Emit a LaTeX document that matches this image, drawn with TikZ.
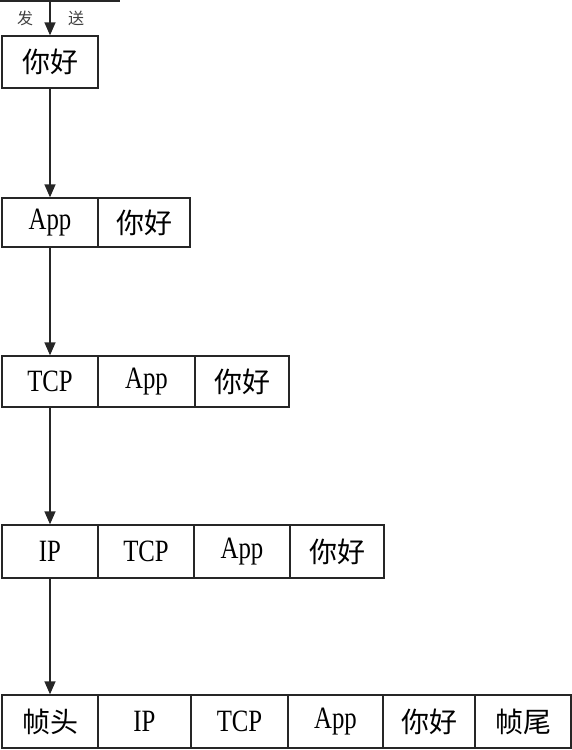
\documentclass[tikz,border=0pt]{standalone}
\usepackage{fontspec}
\setmainfont{Liberation Serif}
\newfontfamily\cjk{Noto Sans CJK SC}
\usetikzlibrary{arrows.meta}
\tikzset{
  cellstyle/.style={draw=black!85, line width=1.3pt, inner sep=0pt},
  flow/.style={draw=black!85, line width=1.3pt, -{Triangle[width=11pt,length=13pt]}},
  lbl/.style={font=\cjk\fontsize{16}{18}\selectfont, text=black!75}
}
\newcommand\lat[1]{\scalebox{0.8}[1]{\fontsize{31}{34}\selectfont #1}}
\newcommand\zh[1]{{\cjk\fontsize{28}{30}\selectfont #1}}
\newcommand\cellbox[6]{\node[cellstyle, minimum width={(#4-#2)*1pt}, minimum height={(#5-#3)*1pt}] (#1) at ({(#2+#4)/2},{(#3+#5)/2}) {#6};}
\begin{document}
\begin{tikzpicture}[x=1pt,y=-1pt]
\useasboundingbox (0,0) rectangle (572,750);
% cut-off box edge at top
\coordinate (topL) at (0,1);
\coordinate (topR) at (120,1);
\draw[draw=black!85, line width=1.3pt] (topL) -- (topR);
\coordinate (src) at (50,0);
\node[lbl] (fa) at (25,18) {发};
\node[lbl] (song) at (76,18) {送};
% row 1
\cellbox{a1}{2}{36}{98}{88}{\zh{你好}}
% row 2
\cellbox{b1}{2}{198}{98}{247}{\lat{App}}
\cellbox{b2}{98}{198}{190}{247}{\zh{你好}}
% row 3
\cellbox{c1}{2}{356}{98}{407}{\lat{TCP}}
\cellbox{c2}{98}{356}{195}{407}{\lat{App}}
\cellbox{c3}{195}{356}{289}{407}{\zh{你好}}
% row 4
\cellbox{d1}{2}{525}{98}{578}{\lat{IP}}
\cellbox{d2}{98}{525}{194}{578}{\lat{TCP}}
\cellbox{d3}{194}{525}{290}{578}{\lat{App}}
\cellbox{d4}{290}{525}{384}{578}{\zh{你好}}
% row 5
\cellbox{e1}{2}{695}{98}{748}{\zh{帧头}}
\cellbox{e2}{98}{695}{191}{748}{\lat{IP}}
\cellbox{e3}{191}{695}{288}{748}{\lat{TCP}}
\cellbox{e4}{288}{695}{383}{748}{\lat{App}}
\cellbox{e5}{383}{695}{475}{748}{\zh{你好}}
\cellbox{e6}{475}{695}{571}{748}{\zh{帧尾}}
% arrows
\draw[flow] (src) -- (a1.north);
\draw[flow] (a1.south) -- (b1.north);
\draw[flow] (b1.south) -- (c1.north);
\draw[flow] (c1.south) -- (d1.north);
\draw[flow] (d1.south) -- (e1.north);
\end{tikzpicture}
\end{document}
